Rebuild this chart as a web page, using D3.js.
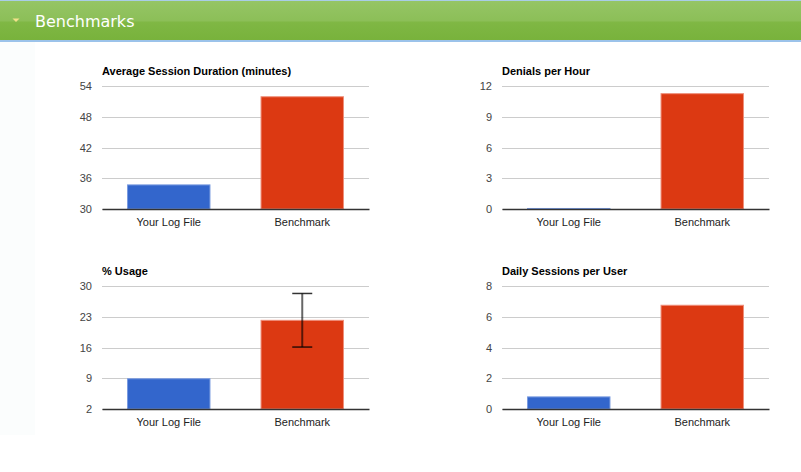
<!DOCTYPE html>
<html><head><meta charset="utf-8">
<script src="https://cdn.jsdelivr.net/npm/d3@7"></script>
<style>
body{margin:0;background:#fff;overflow:hidden}
svg{display:block}
</style></head>
<body>
<svg id="c" width="801" height="472"></svg>
<script>
const categories = ["Your Log File", "Benchmark"];
const titles = ["Average Session Duration (minutes)", "Denials per Hour", "% Usage", "Daily Sessions per User"];
const sessionDuration = [34.8, 52.0];
const denialsPerHour = [0.1, 11.3];
const usage = [9.0, 22.3];
const usageError = [null, [16.1, 28.3]];
const dailySessions = [0.82, 6.78];
const ticks1 = [30, 36, 42, 48, 54];
const ticks2 = [0, 3, 6, 9, 12];
const ticks3 = [2, 9, 16, 23, 30];
const ticks4 = [0, 2, 4, 6, 8];
const colors = ["#3366cc", "#dc3912"];

const svg = d3.select("#c");
const defs = svg.append("defs");
const g1 = defs.append("linearGradient").attr("id","hdr").attr("x1",0).attr("y1",0).attr("x2",0).attr("y2",1);
g1.append("stop").attr("offset","0%").attr("stop-color","#96c566");
g1.append("stop").attr("offset","50%").attr("stop-color","#8cbf58");
g1.append("stop").attr("offset","55%").attr("stop-color","#7fb744");
g1.append("stop").attr("offset","100%").attr("stop-color","#78b23b");

// left pale strip
svg.append("rect").attr("x",0).attr("y",41).attr("width",35).attr("height",394).attr("fill","#fbfdfd");
// header
svg.append("rect").attr("x",0).attr("y",0).attr("width",801).attr("height",41).attr("fill","url(#hdr)");
svg.append("rect").attr("x",0).attr("y",0).attr("width",801).attr("height",1).attr("fill","#a9cde8");
svg.append("rect").attr("x",0).attr("y",40).attr("width",801).attr("height",2).attr("fill","#9cc3ea");
svg.append("path").attr("d","M12.5,18.5 L19.5,18.5 L16,22 Z").attr("fill","#f3e28a");
svg.append("text").attr("x",35).attr("y",27).attr("fill","#fff")
  .style("font-family","'DejaVu Sans', Verdana, sans-serif").style("font-size","16px").text("Benchmarks");

const charts = [
  {title: titles[0], values: sessionDuration, ticks: ticks1, x: 102, y: 86, err: null},
  {title: titles[1], values: denialsPerHour, ticks: ticks2, x: 502, y: 86, err: null},
  {title: titles[2], values: usage, ticks: ticks3, x: 102, y: 286, err: usageError},
  {title: titles[3], values: dailySessions, ticks: ticks4, x: 502, y: 286, err: null}
];
const W = 267, H = 123;
const font = "Arial, 'Liberation Sans', sans-serif";

charts.forEach(c => {
  const g = svg.append("g").attr("transform", `translate(${c.x},${c.y})`);
  const y = d3.scaleLinear().domain([c.ticks[0], c.ticks[c.ticks.length-1]]).range([H, 0]);
  const x = d3.scaleBand().domain(categories).range([0, W]).paddingInner(0.375).paddingOuter(0.1875);
  g.append("text").attr("x",0).attr("y",-11).style("font-family",font).style("font-size","11px")
    .style("font-weight","bold").attr("fill","#000").text(c.title);
  const ya = g.append("g").call(d3.axisLeft(y).tickValues(c.ticks).tickSize(-W).tickPadding(10).tickFormat(d3.format("d")));
  ya.select(".domain").remove();
  ya.selectAll(".tick line").attr("stroke","#cccccc").attr("shape-rendering","crispEdges");
  ya.selectAll(".tick text").style("font-family",font).style("font-size","11px").attr("fill","#444");
  g.selectAll(".bar").data(c.values).join("rect")
    .attr("x",(d,i)=>x(categories[i])+0.5)
    .attr("width",x.bandwidth()-1)
    .attr("y",d=>y(d)+0.5)
    .attr("height",d=>Math.max(0,H-y(d)-0.5))
    .attr("fill",(d,i)=>colors[i])
    .attr("stroke",(d,i)=>i===0?"#7a9be0":"#ef8e7a").attr("stroke-width",1);
  const xa = g.append("g").attr("transform",`translate(0,${H})`).call(d3.axisBottom(x).tickSize(0).tickPadding(9));
  xa.select(".domain").attr("stroke","#333").attr("stroke-width",1.5);
  xa.selectAll(".tick text").style("font-family",font).style("font-size","11px").attr("fill","#222");
  if (c.err) {
    c.err.forEach((e,i)=>{
      if(!e) return;
      const cx = x(categories[i]) + x.bandwidth()/2;
      g.append("line").attr("x1",cx).attr("x2",cx).attr("y1",y(e[0])).attr("y2",y(e[1])).attr("stroke","#000").attr("stroke-opacity",0.6).attr("stroke-width",2);
      [e[0],e[1]].forEach(v=>g.append("line").attr("x1",cx-10).attr("x2",cx+10).attr("y1",y(v)).attr("y2",y(v)).attr("stroke","#000").attr("stroke-opacity",0.8).attr("stroke-width",1.5));
    });
  }
});
</script>
</body></html>
